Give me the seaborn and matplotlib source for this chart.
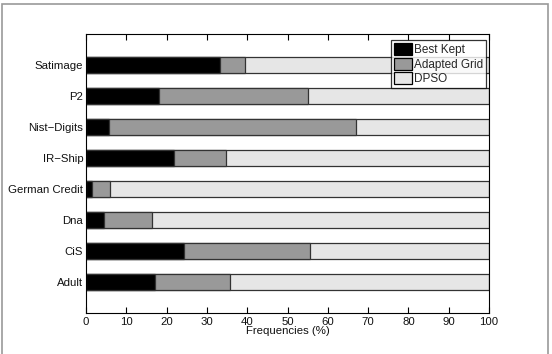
import numpy as np
import pandas as pd
import seaborn as sns
import matplotlib.pyplot as plt
from matplotlib.patches import Rectangle

# data (percent)
datasets = ["Satimage", "P2", "Nist\u2212Digits", "IR\u2212Ship",
            "German Credit", "Dna", "CiS", "Adult"]
best_kept = [33.2, 18.2, 5.8, 21.9, 1.5, 4.5, 24.4, 17.2]
adapted_grid = [6.3, 37.0, 61.2, 12.8, 4.4, 11.9, 31.3, 18.5]
dpso = [100 - b - a for b, a in zip(best_kept, adapted_grid)]

sns.set_theme(style="white")
plt.rcParams['font.family'] = ['Liberation Sans', 'DejaVu Sans']

df = pd.DataFrame({"dataset": datasets, "Best Kept": best_kept,
                   "Adapted Grid": adapted_grid, "DPSO": dpso})
# cumulative ends so each layer is drawn as a full bar from zero
df["c1"] = df["Best Kept"]
df["c2"] = df["c1"] + df["Adapted Grid"]
df["c3"] = df["c2"] + df["DPSO"]

fig = plt.figure(figsize=(5.52, 3.54), dpi=100)
ax = fig.add_axes([86 / 552, 1 - 313 / 354, 403 / 552, 279 / 354])

layers = [("c3", "#e6e6e6", "DPSO"), ("c2", "#999999", "Adapted Grid"),
          ("c1", "black", "Best Kept")]
for col, color, lab in layers:
    sns.barplot(data=df, x=col, y="dataset", order=datasets[::-1], color=color,
                orient="h", width=0.5, edgecolor="#333333", linewidth=0.9,
                label=lab, ax=ax)

ax.set_xlim(0, 100)
ax.set_ylim(-1, 8)
ax.set_xticks(np.arange(0, 101, 10))
ax.set_xlabel("Frequencies (%)", fontsize=8.2, labelpad=-1, color="#111111")
ax.set_ylabel("")
ax.tick_params(axis="both", labelsize=8.2, colors="#111111", length=0, pad=2)
ax.tick_params(axis="x", direction="in", length=4, width=0.8, top=True,
               bottom=True, color="black", pad=3)
for s in ax.spines.values():
    s.set_color("black")
    s.set_linewidth(0.8)

h, l = ax.get_legend_handles_labels()
leg = ax.legend(h[::-1], l[::-1], loc="upper right", fontsize=8.5,
                frameon=True, fancybox=False, edgecolor="black",
                borderpad=0.25, handlelength=1.5, handleheight=1.2,
                handletextpad=0.15, labelspacing=0.12, borderaxespad=0,
                bbox_to_anchor=(0.992, 0.978))
leg.get_frame().set_linewidth(0.9)
for p in leg.get_patches():
    p.set_edgecolor("black")

fig.patches.append(Rectangle((2 / 552, -0.02), 546 / 552, 1 - 4 / 354 + 0.02,
                             transform=fig.transFigure, fill=False,
                             edgecolor="#999999", linewidth=1.2))

fig.savefig("out.png", dpi=100)
